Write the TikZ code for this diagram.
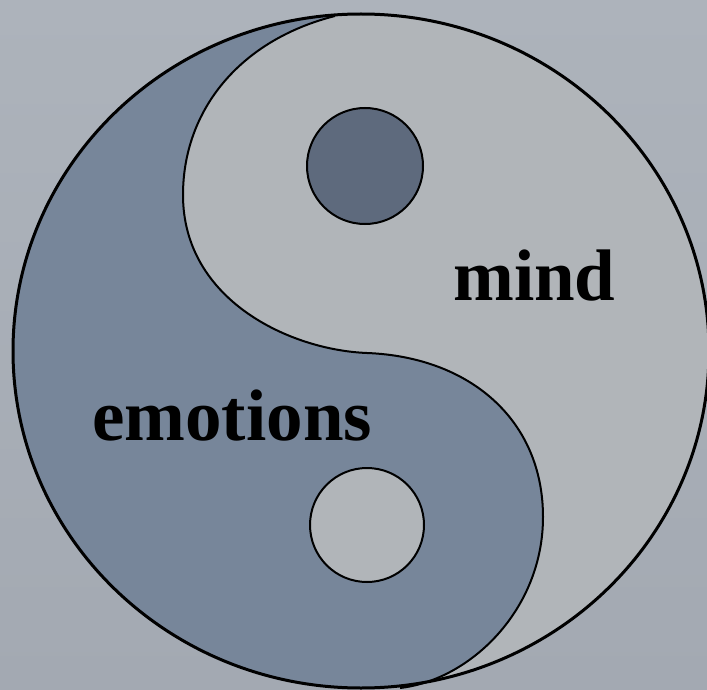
\documentclass[tikz,border=0pt]{standalone}
\usepackage{fontspec}
\setmainfont{Liberation Serif}
\usetikzlibrary{positioning}

\definecolor{bgtop}{RGB}{173,179,187}
\definecolor{bgbottom}{RGB}{163,169,178}
\definecolor{yin}{RGB}{119,134,154}
\definecolor{yang}{RGB}{177,181,185}
\definecolor{yindot}{RGB}{94,106,125}

\newcommand{\yinyangcurve}{(stop) .. controls (240,40) and (183,110) .. (sleft)
        .. controls (183,300) and (290,350) .. (smid)
        .. controls (470,357) and (543,420) .. (sright)
        .. controls (543,610) and (470,680) .. (sbot)}

\begin{document}
\begin{tikzpicture}[
        x=1pt, y=-1pt,
        outline/.style={draw=black, line width=3pt},
        sline/.style={draw=black, line width=2pt},
        dot/.style={circle, draw=black, line width=2pt, minimum size=116pt, inner sep=0pt},
        word/.style={anchor=base west, inner sep=0pt, font=\fontsize{73}{80}\selectfont\bfseries}
    ]
    \useasboundingbox (0,0) rectangle (707,690);
    \shade[top color=bgtop, bottom color=bgbottom] (0,0) rectangle (707,690);

    \coordinate (c) at (361,351);
    \coordinate (stop) at (335,16);
    \coordinate (sleft) at (183,195);
    \coordinate (smid) at (367,353);
    \coordinate (sright) at (543,517);
    \coordinate (sbot) at (400,688);

    % light half, then the dark half clipped to the disc
    \fill[yang] (c) ellipse [x radius=348pt, y radius=337pt];
    \begin{scope}
        \clip (c) ellipse [x radius=348pt, y radius=337pt];
        \fill[yin] \yinyangcurve -- (400,720) -- (-20,720) -- (-20,-20) -- (335,-20) -- cycle;
    \end{scope}
    \draw[sline] \yinyangcurve;
    \draw[outline] (c) ellipse [x radius=348pt, y radius=337pt];

    \node[dot, fill=yindot] (yindot) at (365,166) {};
    \node[dot, fill=yang, minimum size=114pt] (yangdot) at (367,525) {};

    \node[word] (mind) at (453,300) {mind};
    \node[word] (emotions) at (92,440) {emotions};
\end{tikzpicture}
\end{document}
